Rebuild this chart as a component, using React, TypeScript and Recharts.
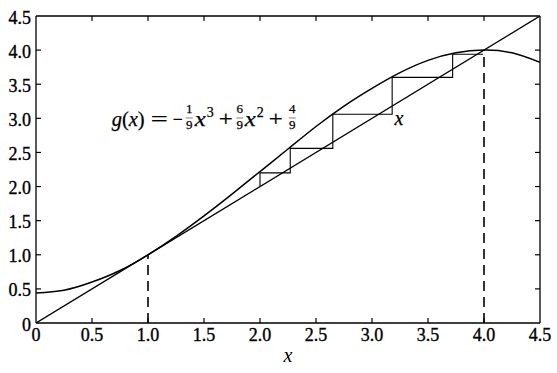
import React from "react";
import {
  ComposedChart,
  Line,
  XAxis,
  YAxis,
  ReferenceLine,
  ReferenceDot,
} from "recharts";

// chart box
const W = 557;
const H = 373;
const PLOT_LEFT = 36;
const PLOT_RIGHT = 540;
const PLOT_TOP = 16;
const PLOT_BOTTOM = 323;
const TICK_LEN = 5;
const FONT = "'Liberation Serif', 'Times New Roman', serif";

// axis ticks
const X_TICKS = [0, 0.5, 1, 1.5, 2, 2.5, 3, 3.5, 4, 4.5];
const X_TICK_LABELS = ["0", "0.5", "1.0", "1.5", "2.0", "2.5", "3.0", "3.5", "4.0", "4.5"];
const Y_TICKS = [0, 0.5, 1, 1.5, 2, 2.5, 3, 3.5, 4, 4.5];
const Y_TICK_LABELS = ["0", "0.5", "1.0", "1.5", "2.0", "2.5", "3.0", "3.5", "4.0", "4.5"];

// g(x) curve
const CURVE_X = [0, 0.25, 0.5, 0.75, 1, 1.25, 1.5, 1.75, 2, 2.25, 2.5, 2.75, 3, 3.25, 3.5, 3.75, 4, 4.25, 4.5];
const CURVE_Y = [0.44, 0.48, 0.6, 0.77, 1.0, 1.27, 1.57, 1.89, 2.22, 2.55, 2.88, 3.18, 3.44, 3.67, 3.85, 3.96, 4.0, 3.96, 3.82];

// y = x line
const DIAG_X = [0, 4.5];
const DIAG_Y = [0, 4.5];

// cobweb staircase starting at x = 2
const WEB_X = [2.0, 2.0, 2.27, 2.27, 2.65, 2.65, 3.18, 3.18, 3.72, 3.72, 3.99];
const WEB_Y = [2.0, 2.2, 2.2, 2.56, 2.56, 3.06, 3.06, 3.6, 3.6, 3.94, 3.94];

// dashed drops from the fixed points
const DROP1_X = [1, 1];
const DROP1_Y = [0, 1];
const DROP2_X = [4, 4];
const DROP2_Y = [0, 4];

const zip = (xs: number[], ys: number[]) => xs.map((x, i) => ({ x, y: ys[i] }));

const curveData = zip(CURVE_X, CURVE_Y);
const diagData = zip(DIAG_X, DIAG_Y);
const webData = zip(WEB_X, WEB_Y);
const drop1Data = zip(DROP1_X, DROP1_Y);
const drop2Data = zip(DROP2_X, DROP2_Y);

const labelStyle = { fontFamily: FONT, fontSize: 18, fill: "#000", stroke: "#000", strokeWidth: 0.35 };

const XTick = (props: any) => {
  const { payload } = props;
  const x = payload.coordinate;
  const i = X_TICKS.indexOf(payload.value);
  const inner = payload.value !== X_TICKS[0] && payload.value !== X_TICKS[X_TICKS.length - 1];
  return (
    <g>
      {inner && (
        <>
          <line x1={x} x2={x} y1={PLOT_BOTTOM} y2={PLOT_BOTTOM - TICK_LEN} stroke="#000" strokeWidth={1.2} />
          <line x1={x} x2={x} y1={PLOT_TOP} y2={PLOT_TOP + TICK_LEN} stroke="#000" strokeWidth={1.2} />
        </>
      )}
      <text x={x} y={PLOT_BOTTOM + 18} textAnchor="middle" style={labelStyle}>
        {X_TICK_LABELS[i]}
      </text>
    </g>
  );
};

const YTick = (props: any) => {
  const { payload } = props;
  const y = payload.coordinate;
  const i = Y_TICKS.indexOf(payload.value);
  const inner = payload.value !== Y_TICKS[0] && payload.value !== Y_TICKS[Y_TICKS.length - 1];
  return (
    <g>
      {inner && (
        <>
          <line x1={PLOT_LEFT} x2={PLOT_LEFT + TICK_LEN} y1={y} y2={y} stroke="#000" strokeWidth={1.2} />
          <line x1={PLOT_RIGHT} x2={PLOT_RIGHT - TICK_LEN} y1={y} y2={y} stroke="#000" strokeWidth={1.2} />
        </>
      )}
      <text x={PLOT_LEFT - 5} y={y + 7.5} textAnchor="end" style={labelStyle}>
        {Y_TICK_LABELS[i]}
      </text>
    </g>
  );
};

const Frac = ({ cx, num, den }: { cx: number; num: string; den: string }) => (
  <g>
    <text x={cx} y={-13} textAnchor="middle" fontSize={13}>{num}</text>
    <line x1={cx - 3.5} x2={cx + 3.5} y1={-8} y2={-8} stroke="#000" strokeWidth={0.5} />
    <text x={cx} y={3} textAnchor="middle" fontSize={13}>{den}</text>
  </g>
);

// formula label; origin is the text baseline start
const Formula = (props: any) => {
  const vb = props.viewBox || {};
  const ox = (vb.x || 0) + (vb.width || 0) / 2;
  const oy = (vb.y || 0) + (vb.height || 0) / 2;
  return (
    <g transform={`translate(${ox},${oy})`} fontFamily={FONT} fill="#000" stroke="#000" strokeWidth={0.25}>
      <text x={0} y={0} fontSize={20} textLength={33} lengthAdjust="spacingAndGlyphs">
        <tspan fontStyle="italic">g</tspan>(<tspan fontStyle="italic">x</tspan>)
      </text>
      <text x={39} y={0} fontSize={20} textLength={17} lengthAdjust="spacingAndGlyphs">=</text>
      <text x={61} y={0} fontSize={20} textLength={10} lengthAdjust="spacingAndGlyphs">−</text>
      <Frac cx={77.5} num="1" den="9" />
      <text x={83} y={0} fontSize={20} fontStyle="italic" textLength={11} lengthAdjust="spacingAndGlyphs">x</text>
      <text x={95} y={-9} fontSize={14}>3</text>
      <text x={107} y={0} fontSize={20} textLength={14} lengthAdjust="spacingAndGlyphs">+</text>
      <Frac cx={128} num="6" den="9" />
      <text x={133} y={0} fontSize={20} fontStyle="italic" textLength={11} lengthAdjust="spacingAndGlyphs">x</text>
      <text x={145} y={-9} fontSize={14}>2</text>
      <text x={157} y={0} fontSize={20} textLength={14} lengthAdjust="spacingAndGlyphs">+</text>
      <Frac cx={180.5} num="4" den="9" />
    </g>
  );
};

const XMark = (props: any) => {
  const vb = props.viewBox || {};
  const ox = (vb.x || 0) + (vb.width || 0) / 2;
  const oy = (vb.y || 0) + (vb.height || 0) / 2;
  return (
    <text x={ox} y={oy} fontFamily={FONT} fontSize={20} fontStyle="italic" fill="#000" stroke="#000" strokeWidth={0.25}>
      x
    </text>
  );
};

export default function App() {
  return (
    <div style={{ position: "absolute", left: 0, top: 0, width: W, height: H, background: "#fff" }}>
      <ComposedChart width={W} height={H} margin={{ top: PLOT_TOP, right: W - PLOT_RIGHT, bottom: 0, left: 0 }}>
        <XAxis
          dataKey="x"
          type="number"
          domain={[0, 4.5]}
          ticks={X_TICKS}
          allowDataOverflow
          height={H - PLOT_BOTTOM}
          axisLine={{ stroke: "#000", strokeWidth: 1.3 }}
          tickLine={false}
          tick={<XTick />}
          interval={0}
          label={{
            value: "x",
            position: "insideBottom",
            offset: 11,
            fill: "#000",
            fontSize: 20,
            fontStyle: "italic",
            fontFamily: FONT,
          }}
        />
        <YAxis
          dataKey="y"
          type="number"
          domain={[0, 4.5]}
          ticks={Y_TICKS}
          allowDataOverflow
          width={PLOT_LEFT}
          axisLine={{ stroke: "#000", strokeWidth: 1.3 }}
          tickLine={false}
          tick={<YTick />}
          interval={0}
        />
        <ReferenceLine y={4.5} stroke="#000" strokeWidth={1.3} />
        <ReferenceLine x={4.5} stroke="#000" strokeWidth={1.3} />

        <Line data={diagData} dataKey="y" type="linear" stroke="#000" strokeWidth={1.4} dot={false} activeDot={false} isAnimationActive={false} />
        <Line data={curveData} dataKey="y" type="natural" stroke="#000" strokeWidth={1.5} dot={false} activeDot={false} isAnimationActive={false} />
        <Line data={webData} dataKey="y" type="linear" stroke="#000" strokeWidth={1.1} dot={false} activeDot={false} isAnimationActive={false} />
        <Line data={drop1Data} dataKey="y" type="linear" stroke="#000" strokeWidth={1.6} strokeDasharray="10 6" dot={false} activeDot={false} isAnimationActive={false} />
        <Line data={drop2Data} dataKey="y" type="linear" stroke="#000" strokeWidth={1.6} strokeDasharray="10 6" dot={false} activeDot={false} isAnimationActive={false} />

        <ReferenceDot x={0.676} y={2.888} r={0} stroke="none" fill="none" label={<Formula />} />
        <ReferenceDot x={3.2} y={2.9} r={0} stroke="none" fill="none" label={<XMark />} />
      </ComposedChart>
    </div>
  );
}
